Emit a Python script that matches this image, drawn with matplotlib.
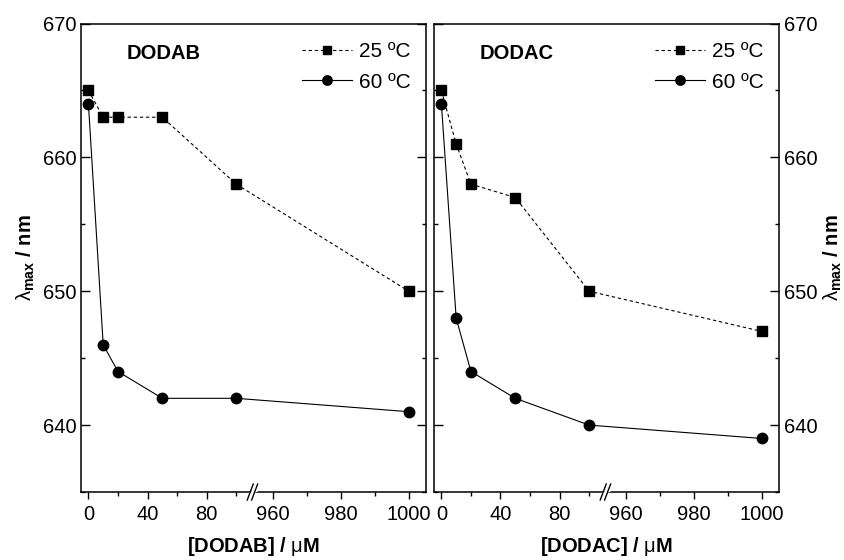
import numpy as np
import matplotlib
matplotlib.use('Agg')
import matplotlib.pyplot as plt
from matplotlib.ticker import FixedLocator

plt.rcParams['font.family'] = ['Liberation Sans', 'DejaVu Sans']
plt.rcParams['mathtext.fontset'] = 'custom'
plt.rcParams['mathtext.rm'] = 'Liberation Sans'
plt.rcParams['mathtext.bf'] = 'Liberation Sans:bold'
plt.rcParams['mathtext.it'] = 'Liberation Sans:italic'

# dados
conc = [0, 10, 20, 50, 100, 1000]
dodab_25 = [665, 663, 663, 663, 658, 650]
dodab_60 = [664, 646, 644, 642, 642, 641]
dodac_25 = [665, 661, 658, 657, 650, 647]
dodac_60 = [664, 648, 644, 642, 640, 639]

x_major = [0, 40, 80, 960, 980, 1000]
x_minor = [20, 60, 100, 970, 990]
y_major = [640, 650, 660, 670]
y_minor = [635, 645, 655, 665]

# eixo x quebrado: 0-111 e 954-1005
B1, B2, K = 111.0, 954.0, 2.3

def fwd(x):
    x = np.asarray(x, dtype=float)
    return np.where(x <= B1, x, np.where(x >= B2, B1 + (x - B2) * K, B1))

def inv(t):
    t = np.asarray(t, dtype=float)
    return np.where(t <= B1, t, B2 + (t - B1) / K)

XMIN, XMAX = -5, 1005
brk = (fwd(B1) - fwd(XMIN)) / (fwd(XMAX) - fwd(XMIN))

fig = plt.figure(figsize=(8.45, 5.6), dpi=100)
ax1 = fig.add_axes([0.0959, 0.1214, 0.408, 0.8366])
ax2 = fig.add_axes([0.5136, 0.1214, 0.408, 0.8366])

panels = [(ax1, dodab_25, dodab_60, 'DODAB'), (ax2, dodac_25, dodac_60, 'DODAC')]

for ax, s25, s60, name in panels:
    ax.set_xscale('function', functions=(fwd, inv))
    ax.plot(conc, s25, ls=(0, (3, 2.5)), lw=0.8, color='black', marker='s',
            ms=6.5, label='25 ºC', zorder=3)
    ax.plot(conc, s60, ls='-', lw=0.8, color='black', marker='o',
            ms=7.5, label='60 ºC', zorder=3)
    ax.set_xlim(XMIN, XMAX)
    ax.set_ylim(635, 670)

    ax.xaxis.set_major_locator(FixedLocator(x_major))
    ax.xaxis.set_minor_locator(FixedLocator(x_minor))
    ax.set_xticklabels([str(v) for v in x_major])
    ax.yaxis.set_major_locator(FixedLocator(y_major))
    ax.yaxis.set_minor_locator(FixedLocator(y_minor))

    ax.tick_params(axis='x', which='major', direction='out', length=5, width=1,
                   labelsize=14.5, pad=4)
    ax.tick_params(axis='x', which='minor', direction='out', length=3, width=1)
    ax.tick_params(axis='y', which='major', direction='in', length=6.5, width=1,
                   labelsize=14.5, left=True, right=True)
    ax.tick_params(axis='y', which='minor', direction='in', length=3, width=1,
                   left=True, right=True)
    for sp in ax.spines.values():
        sp.set_linewidth(1.1)

    ax.set_xlabel(f'[{name}] / ' + r'$\mathrm{\mu}$M', fontsize=14.5,
                  fontweight='bold', labelpad=8)
    ax.text(0.132, 0.935, name, transform=ax.transAxes, fontsize=14.5,
            fontweight='bold', va='center', ha='left')

    leg = ax.legend(loc='upper right', bbox_to_anchor=(1.01, 1.0), frameon=False,
                    fontsize=15, handlelength=2.4, handletextpad=0.3,
                    labelspacing=0.55, markerscale=0.9)

    # faixa branca na quebra (interrompe as linhas)
    ax.axvline(B1, color='white', lw=3, zorder=2.5)

    # marcas de quebra "//"
    dx, dy = 0.0029, 0.00213
    ax.plot([brk - 2 * dx, brk + 4 * dx], [-1.5 * dy, 1.5 * dy],
            transform=ax.transAxes, color='white', lw=2, clip_on=False, zorder=5)
    for off in (-2.2, 2.2):
        cx = brk + off * dx
        ax.plot([cx - 3 * dx, cx + 3 * dx], [-8 * dy, 8 * dy],
                transform=ax.transAxes, color='black', lw=1, clip_on=False, zorder=6)

ax1.set_ylabel(r'$\mathrm{\lambda}_{\mathbf{max}}$ / nm', fontsize=14.5,
               fontweight='bold', labelpad=4)
ax2.yaxis.set_label_position('right')
ax2.tick_params(axis='y', which='both', labelleft=False, labelright=True)
ax2.set_ylabel(r'$\mathrm{\lambda}_{\mathbf{max}}$ / nm', fontsize=14.5,
               fontweight='bold', rotation=90, labelpad=3)

fig.savefig('out.png', dpi=100)
